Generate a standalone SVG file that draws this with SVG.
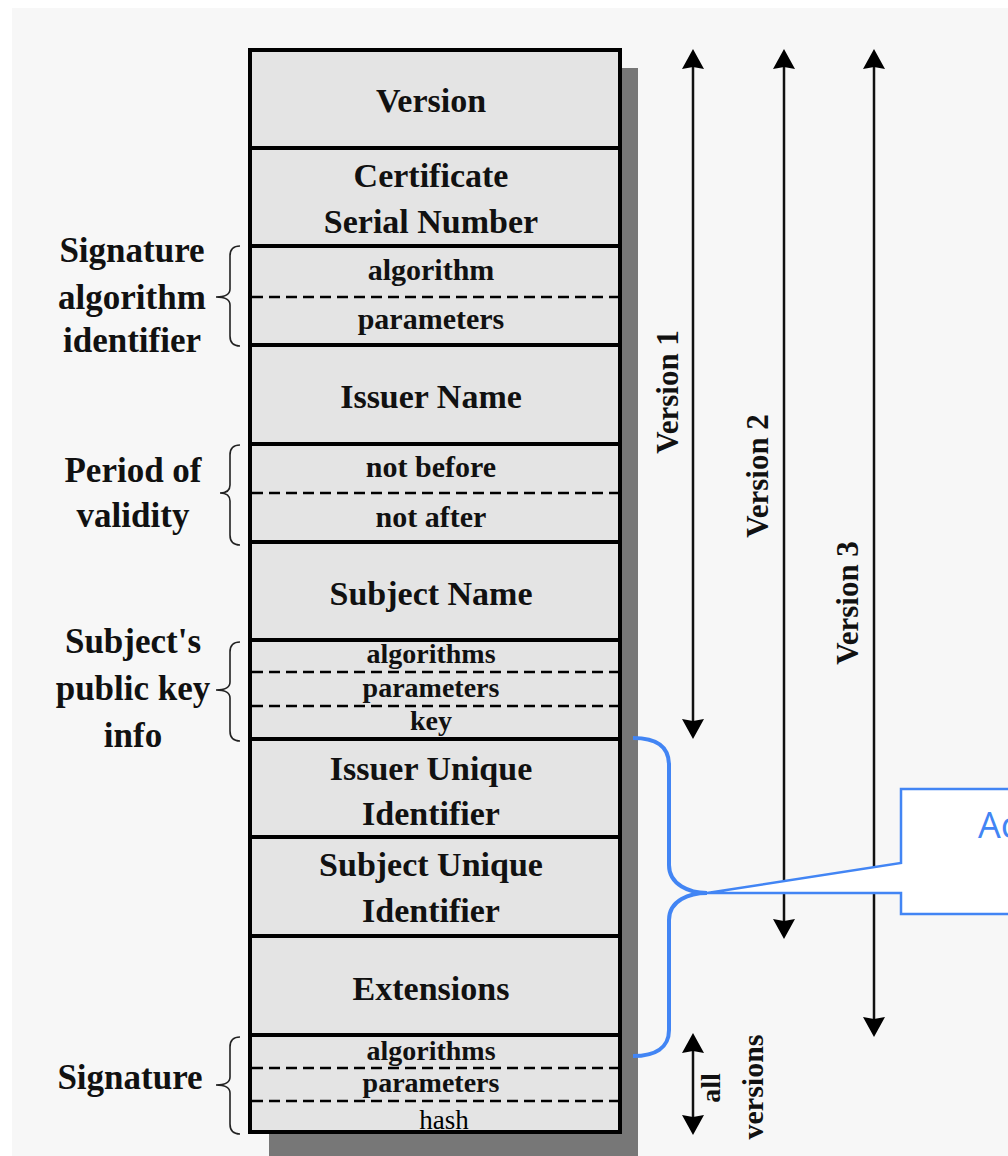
<svg xmlns="http://www.w3.org/2000/svg" width="1008" height="1156" viewBox="0 0 1008 1156">
<defs>
<style>
.big{font-family:"Liberation Serif","Times New Roman",serif;font-weight:bold;font-size:34px;fill:#111;text-anchor:middle}
.lab{font-family:"Liberation Serif","Times New Roman",serif;font-weight:bold;font-size:35px;fill:#111;text-anchor:middle}
.sm{font-family:"Liberation Serif","Times New Roman",serif;font-weight:bold;font-size:30px;fill:#111;text-anchor:middle}
.xs{font-family:"Liberation Serif","Times New Roman",serif;font-weight:bold;font-size:28px;fill:#111;text-anchor:middle}
.rot{font-family:"Liberation Serif","Times New Roman",serif;font-weight:bold;font-size:31px;fill:#111;text-anchor:middle}
.cell{fill:#e4e4e4;stroke:#000;stroke-width:4}
.sep{stroke:#000;stroke-width:4}
.dash{stroke:#000;stroke-width:2.5;stroke-dasharray:11 6}
.brace{fill:none;stroke:#222;stroke-width:1.6}
.arr{fill:none;stroke:#111;stroke-width:2.5;marker-start:url(#ah);marker-end:url(#ah)}
.blue{fill:none;stroke:#4285f4;stroke-width:4}
</style>
<marker id="ah" viewBox="0 0 20 22" refX="10" refY="11" markerWidth="20" markerHeight="22" markerUnits="userSpaceOnUse" orient="auto-start-reverse">
<path d="M0,0 L20,11 L0,22 L2,11 Z" fill="#000"/>
</marker>
</defs>
<rect x="12" y="8" width="996" height="1148" fill="#f7f7f7"/>
<!-- shadow -->
<rect x="621" y="68" width="17" height="1088" fill="#777"/>
<rect x="269" y="1133" width="369" height="23" fill="#777"/>

<g id="certificate">
<rect class="cell" x="250" y="50" width="370" height="1082"/>
<line class="sep" x1="250" y1="148" x2="620" y2="148"/>
<line class="sep" x1="250" y1="246" x2="620" y2="246"/>
<line class="sep" x1="250" y1="345" x2="620" y2="345"/>
<line class="sep" x1="250" y1="444" x2="620" y2="444"/>
<line class="sep" x1="250" y1="542" x2="620" y2="542"/>
<line class="sep" x1="250" y1="640" x2="620" y2="640"/>
<line class="sep" x1="250" y1="739" x2="620" y2="739"/>
<line class="sep" x1="250" y1="837" x2="620" y2="837"/>
<line class="sep" x1="250" y1="936" x2="620" y2="936"/>
<line class="sep" x1="250" y1="1035" x2="620" y2="1035"/>
<line class="dash" x1="252" y1="297" x2="618" y2="297"/>
<line class="dash" x1="252" y1="493" x2="618" y2="493"/>
<line class="dash" x1="252" y1="672" x2="618" y2="672"/>
<line class="dash" x1="252" y1="706" x2="618" y2="706"/>
<line class="dash" x1="252" y1="1068" x2="618" y2="1068"/>
<line class="dash" x1="252" y1="1101" x2="618" y2="1101"/>
</g>

<g id="field-version"><text class="big" x="431" y="112">Version</text></g>
<g id="field-serial"><text class="big" x="431" y="187">Certificate</text><text class="big" x="431" y="233">Serial Number</text></g>
<g id="field-sigalg"><text class="sm" x="431" y="280">algorithm</text><text class="sm" x="431" y="329">parameters</text></g>
<g id="field-issuer"><text class="big" x="431" y="408">Issuer Name</text></g>
<g id="field-validity"><text class="sm" x="431" y="477">not before</text><text class="sm" x="431" y="527">not after</text></g>
<g id="field-subject"><text class="big" x="431" y="605">Subject Name</text></g>
<g id="field-pubkey"><text class="xs" x="431" y="663">algorithms</text><text class="xs" x="431" y="697">parameters</text><text class="xs" x="431" y="730">key</text></g>
<g id="field-issuer-uid"><text class="big" x="431" y="780">Issuer Unique</text><text class="big" x="431" y="825">Identifier</text></g>
<g id="field-subject-uid"><text class="big" x="431" y="876">Subject Unique</text><text class="big" x="431" y="922">Identifier</text></g>
<g id="field-extensions"><text class="big" x="431" y="1000">Extensions</text></g>
<g id="field-signature"><text class="xs" x="431" y="1060">algorithms</text><text class="xs" x="431" y="1092">parameters</text>
<text x="444" y="1129" style="font-family:'Liberation Serif','Times New Roman',serif;font-size:27px;fill:#000;text-anchor:middle">hash</text></g>

<g id="label-sigalg">
<path class="brace" d="M240,246 Q230,246 230,256 L230,289 Q230,297 216,297 Q230,297 230,305 L230,336 Q230,346 240,346"/>
<text class="lab" x="132" y="262">Signature</text><text class="lab" x="132" y="309">algorithm</text><text class="lab" x="132" y="352">identifier</text>
</g>
<g id="label-validity">
<path class="brace" d="M240,445 Q230,445 230,455 L230,485 Q230,493 220,493 Q230,493 230,501 L230,535 Q230,545 240,545"/>
<text class="lab" x="133" y="482">Period of</text><text class="lab" x="133" y="527">validity</text>
</g>
<g id="label-pubkey">
<path class="brace" d="M240,642 Q230,642 230,652 L230,682 Q230,690 216,690 Q230,690 230,698 L230,731 Q230,741 240,741"/>
<text class="lab" x="133" y="653">Subject's</text><text class="lab" x="133" y="700">public key</text><text class="lab" x="133" y="747">info</text>
</g>
<g id="label-signature">
<path class="brace" d="M240,1037 Q230,1037 230,1047 L230,1077 Q230,1085 216,1085 Q230,1085 230,1093 L230,1124 Q230,1134 240,1134"/>
<text class="lab" x="130" y="1089">Signature</text>
</g>

<g id="connectors">
<line class="arr" x1="693" y1="59" x2="693" y2="729"/>
<line class="arr" x1="784" y1="59" x2="784" y2="929"/>
<line class="arr" x1="874" y1="59" x2="874" y2="1027"/>
<line class="arr" x1="693" y1="1043" x2="693" y2="1125"/>
<path class="blue" d="M633,738 C655,738 669,745 669,765 L669,865 C669,885 690,893 707,893 C690,893 669,900 669,920 L669,1030 C669,1048 655,1056 633,1056"/>
</g>

<g id="label-v1"><text class="rot" transform="translate(678,392) rotate(-90)">Version 1</text></g>
<g id="label-v2"><text class="rot" transform="translate(768,476) rotate(-90)">Version 2</text></g>
<g id="label-v3"><text class="rot" transform="translate(858,603) rotate(-90)">Version 3</text></g>
<g id="label-all"><text class="rot" transform="translate(720,1088) rotate(-90)" style="font-size:28px">all</text>
<text class="rot" transform="translate(763,1087) rotate(-90)" style="font-size:30px">versions</text></g>

<g id="callout">
<path d="M901,789 H1012 V914 H901 V893 H707 L901,863 Z" fill="#fff" stroke="#4285f4" stroke-width="2.5" stroke-linejoin="miter"/>
<text x="978" y="838" style="font-family:'Open Sans','Noto Sans',sans-serif;font-size:36px;fill:#4285f4">Ac</text>
</g>
</svg>
